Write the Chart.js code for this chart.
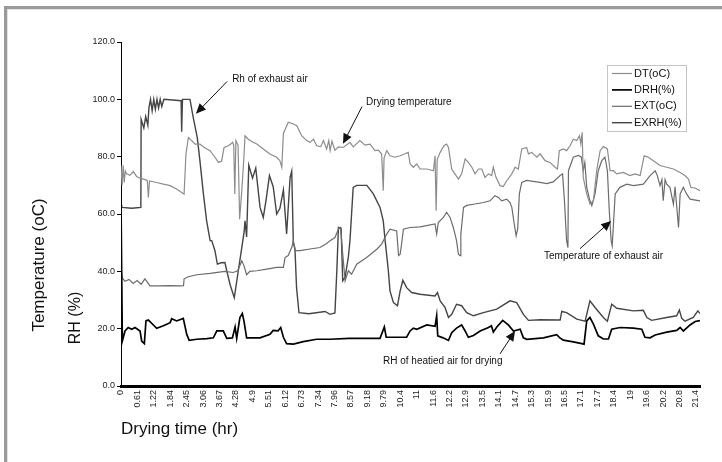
<!DOCTYPE html>
<html>
<head>
<meta charset="utf-8">
<title>Drying temperature and RH</title>
<script src="https://cdn.jsdelivr.net/npm/chart.js@4.4.1/dist/chart.umd.min.js"></script>
<style>
  html, body { margin: 0; padding: 0; background: #fff; }
  #wrap { position: relative; width: 722px; height: 462px; overflow: hidden; }
  #frame { position: absolute; left: 4px; top: 6px; width: 760px; height: 500px;
           border-top: 3px solid #9a9a9a; border-left: 3px solid #9a9a9a; }
  #frame::before { content: ''; position: absolute; left: 0; top: 0; right: 0; bottom: 0;
           border-top: 1px solid #e2e2e2; border-left: 1px solid #e2e2e2; }
  #chart { position: absolute; left: 0; top: 0; }
</style>
</head>
<body>
<div id="wrap">
  <div id="frame"></div>
  <canvas id="chart" width="722" height="462"></canvas>
</div>
<script>
// x tick labels (hours), one every 0.612 hr
const xTickLabels = ['0', '0.61', '1.22', '1.84', '2.45', '3.06', '3.67', '4.28', '4.9', '5.51',
    '6.12', '6.73', '7.34', '7.96', '8.57', '9.18', '9.79', '10.4', '11', '11.6', '12.2', '12.9',
    '13.5', '14.1', '14.7', '15.3', '15.9', '16.5', '17.1', '17.7', '18.4', '19', '19.6', '20.2',
    '20.8', '21.4'];
const TICK_STEP = 0.612;

// DT(oC) - drying temperature
const dtTime = [0, 0.04, 0.08, 0.12, 0.16, 0.21, 0.33, 0.46, 0.58, 0.71, 0.9, 0.98, 1.02, 1.06, 1.33,
    1.58, 1.83, 2.07, 2.26, 2.35, 2.42, 2.51, 2.63, 2.76, 2.94, 3.13, 3.32, 3.5, 3.63, 3.75, 3.84, 4.0,
    4.09, 4.16, 4.2, 4.24, 4.28, 4.36, 4.42, 4.5, 4.58, 4.62, 4.74, 4.92, 5.06, 5.3, 5.55, 5.8, 5.92,
    5.99, 6.05, 6.23, 6.4, 6.55, 6.73, 6.92, 7.04, 7.17, 7.29, 7.44, 7.54, 7.66, 7.74, 7.79, 7.86, 7.97,
    8.1, 8.28, 8.53, 8.65, 8.9, 9.09, 9.28, 9.46, 9.59, 9.71, 9.77, 9.8, 9.9, 10.02, 10.21, 10.4, 10.58,
    10.7, 10.77, 10.89, 11.02, 11.14, 11.39, 11.64, 11.7, 11.74, 11.78, 11.89, 12.03, 12.13, 12.2,
    12.32, 12.44, 12.57, 12.69, 12.82, 12.94, 13.07, 13.19, 13.32, 13.44, 13.56, 13.69, 13.81, 13.87,
    13.97, 14.12, 14.24, 14.37, 14.56, 14.68, 14.8, 14.93, 15.11, 15.18, 15.3, 15.49, 15.61, 15.8,
    15.98, 16.17, 16.26, 16.33, 16.48, 16.6, 16.73, 16.85, 16.98, 17.08, 17.13, 17.18, 17.22, 17.35,
    17.47, 17.6, 17.72, 17.85, 17.97, 18.12, 18.22, 18.34, 18.47, 18.71, 18.96, 19.15, 19.34, 19.49,
    19.65, 19.83, 20.08, 20.33, 20.58, 20.83, 21.01, 21.14, 21.23, 21.4, 21.57];
const dtValue = [77, 70, 77, 71, 75, 74, 73.5, 74.8, 73.1, 72.5, 72, 71.6, 65.8, 71.5, 71,
    70.4, 69.9, 68.7, 67.5, 66.9, 80.9, 86.7, 85.6, 84.4, 84.4, 83, 82.1, 79.8, 78, 78.5, 83.2, 83.8,
    84.4, 85, 84, 67, 85.6, 84, 58.2, 68.1, 80, 87.3, 86.1, 85, 84.4, 82.7, 80.9, 79.8, 78.6,
    76.3, 88.1, 92, 91.5, 90.8, 87.3, 85.6, 85, 86.1, 83.8, 83.5, 85.6, 82.7, 85.6, 82.1, 85.4, 82.3,
    83.4, 83.2, 85, 83.4, 85.6, 84, 84.4, 82.1, 82.3, 80.9, 68.1, 79.5, 82.1, 80.3, 79.8, 80.3, 81,
    81.5, 77.5, 76.3, 77.5, 75.7, 75.7, 75.1, 80.3, 61.1, 79, 81.5, 83.8, 84.4, 83.2,
    75.7, 74, 72.2, 74, 79.2, 78, 76.3, 74, 75.7, 75.7, 72.8, 74, 73.4, 76.3,
    72.8, 69.9, 69.6, 71.6, 74, 76.3, 75.7, 82.7, 83.2, 81, 81.5, 79.8, 81, 78.6,
    78, 76.3, 75.7, 82.1, 82.7, 82.1, 83.8, 86.1, 85.6, 87.3, 84.5, 88.5, 72.8, 67,
    63.5, 64.6, 75.1, 82.1, 83.5, 82.7, 75.1, 75.1, 74, 74.5, 73.4, 74, 73.4, 80.3,
    79.8, 78.6, 76.9, 76.3, 75.7, 74.5, 73.4, 72.2, 69.3, 69, 68.1];

// DRH(%) - RH of heated air for drying
const drhTime = [0, 0.05, 0.15, 0.27, 0.4, 0.52, 0.71, 0.77, 0.87, 0.93, 1.02, 1.15, 1.33, 1.58, 1.83,
    1.89, 2.07, 2.32, 2.45, 2.54, 2.82, 3.2, 3.44, 3.57, 3.81, 3.94, 4.15, 4.25, 4.31, 4.43, 4.52, 4.58,
    4.68, 5.18, 5.55, 5.67, 5.85, 5.95, 6.05, 6.17, 6.42, 6.79, 7.29, 7.79, 8.5, 9.65, 9.81, 9.88,
    10.64, 10.77, 10.89, 11.02, 11.39, 11.7, 11.76, 11.8, 12.0, 12.2, 12.32, 12.5, 12.69, 12.82,
    12.94, 13.13, 13.38, 13.69, 13.8, 13.87, 14.0, 14.22, 14.43, 14.62, 14.87, 14.99, 15.12, 15.74,
    16.23, 16.35, 16.48, 16.85, 17.17, 17.25, 17.35, 17.47, 17.6, 17.78, 17.97, 18.16, 18.28, 18.59,
    19.09, 19.4, 19.52, 19.71, 19.9, 20.33, 20.7, 20.83, 20.95, 21.2, 21.39, 21.57];
const drhValue = [64, 15.7, 19.2, 20.4, 19.8, 20.4, 19.2, 15.7, 14.8, 22.7, 23, 21.8, 20.1, 21, 22.1,
    23.5, 22.7, 23.6, 18, 15.9, 16.3, 16.5, 16.8, 19.2, 19.2, 16.6, 16.8, 20.6, 16.6, 23.9, 25.3, 22.7,
    16.8, 16.8, 18, 19.4, 19.2, 20.4, 17, 14.8, 14.6, 15.5, 16.3, 16.3, 16.6, 16.6, 20.6, 17,
    17, 19.2, 20.2, 19.8, 21.3, 20.8, 24.5, 17.5, 16.8, 15.9, 18.6, 20.2, 21.3, 19.2,
    17, 17.6, 19.2, 20.4, 21, 18.8, 20.6, 22.9, 21.3, 19.2, 19.8, 16.8, 16.3, 16.8,
    17.9, 16.8, 16, 15.4, 14.8, 14.6, 22.7, 23.9, 21.6, 17.5, 16.4, 16.4, 19.8, 20.4,
    20.2, 19.8, 17, 16.8, 17.8, 18.8, 19.4, 20.4, 19.2, 21.3, 22.5, 22.8];

// EXT(oC) - temperature of exhaust air
const extTime = [0, 0.04, 0.15, 0.3, 0.45, 0.6, 0.75, 0.89, 1.0, 1.08, 1.4, 1.8, 2.2, 2.33, 2.35, 2.51,
    2.82, 3.32, 3.87, 4.18, 4.35, 4.5, 4.58, 4.68, 4.8, 5.06, 5.43, 5.8, 6.05, 6.11, 6.23, 6.36, 6.42,
    6.48, 6.67, 7.04, 7.41, 7.66, 7.79, 7.97, 8.1, 8.18, 8.26, 8.35, 8.47, 8.59, 8.78, 9.15, 9.53, 9.71,
    9.9, 10.02, 10.27, 10.34, 10.4, 10.46, 10.52, 10.77, 11.14, 11.7, 11.76, 11.82, 12.01, 12.13, 12.26,
    12.38, 12.5, 12.57, 12.63, 12.66, 12.76, 12.88, 13.13, 13.5, 13.75, 13.93, 14.06, 14.18, 14.37,
    14.49, 14.56, 14.65, 14.72, 14.78, 14.84, 14.93, 15.11, 15.61, 15.86, 16.1, 16.36, 16.45, 16.52,
    16.6, 16.65, 16.67, 16.85, 17.04, 17.15, 17.22, 17.28, 17.35, 17.47, 17.54, 17.66, 17.78, 17.91,
    18.03, 18.12, 18.19, 18.26, 18.3, 18.41, 18.59, 18.84, 19.09, 19.46, 19.71, 19.9, 19.98, 20.08,
    20.15, 20.2, 20.27, 20.33, 20.45, 20.58, 20.64, 20.77, 20.83, 20.95, 21.07, 21.2, 21.57];
const extValue = [41, 37.8, 36.5, 37.2, 35.8, 36.8, 35.5, 37.4, 36, 34.9, 34.9, 35, 34.9, 35, 37.4, 38.1,
    38.8, 39.3, 40, 39.6, 40.2, 43.7, 42, 38.8, 40, 40.2, 40.8, 41.4, 41.4, 44.8, 45.5, 48.3, 50.7,
    47.2, 47.2, 47.8, 48.3, 49.7, 50.7, 51.8, 54.7, 55.3, 46, 36.7, 40.2, 39, 42.5, 44.8, 47.7, 49.5,
    53, 54.7, 54.1, 45.5, 46, 50, 54.7, 55.3, 55.5, 56.5, 53, 57, 58.8, 60.6, 58.8,
    55.3, 50.7, 46, 45.5, 53, 62.3, 63, 63.4, 64, 64.6, 66.4, 65.8, 64.6, 65.2,
    64, 62.3, 56.5, 52.4, 55, 67, 71, 71.7, 71, 70.6, 71.2, 73.4, 74, 64.6,
    50.7, 48.3, 75.1, 79.8, 80.4, 79.8, 75.1, 78, 69.3, 64.6, 62.9, 67, 75.1, 78.6,
    79.8, 75.1, 61.1, 50.7, 48.9, 67, 69.3, 70.4, 69.9, 70.4, 73.4, 75.1, 73.4, 69.9,
    72, 64.6, 72, 70.4, 69.3, 63.4, 69.5, 55.3, 67, 69.3, 67, 65.2, 64.6];

// EXRH(%) - RH of exhaust air
const exrhTime = [0, 0.04, 0.4, 0.74, 0.75, 0.85, 0.92, 1.0, 1.04, 1.1, 1.16, 1.22, 1.28, 1.34, 1.4,
    1.46, 1.52, 1.6, 2.24, 2.26, 2.29, 2.57, 2.69, 2.84, 2.94, 3.07, 3.19, 3.32, 3.38, 3.5, 3.59, 3.73,
    3.87, 3.94, 4.06, 4.22, 4.37, 4.5, 4.59, 4.62, 4.68, 4.76, 4.9, 5.02, 5.18, 5.3, 5.4, 5.53, 5.67,
    5.8, 5.92, 6.05, 6.17, 6.3, 6.36, 6.42, 6.48, 6.54, 6.63, 7.0, 7.6, 7.79, 7.97, 8.04, 8.1, 8.2,
    8.26, 8.35, 8.47, 8.53, 8.65, 8.78, 9.16, 9.4, 9.65, 9.77, 9.84, 9.96, 10.02, 10.15, 10.3, 10.4,
    10.5, 10.64, 10.83, 11.14, 11.7, 11.79, 11.89, 12.07, 12.2, 12.32, 12.5, 12.69, 12.88, 13.13,
    13.5, 14.0, 14.49, 14.74, 14.99, 15.18, 15.61, 16.36, 16.42, 16.6, 16.98, 17.29, 17.47, 17.66,
    17.97, 18.12, 18.28, 18.47, 19.09, 19.46, 19.59, 19.77, 20.33, 20.7, 20.8, 20.89, 21.01, 21.32,
    21.49, 21.57];
const exrhValue = [64, 62.3, 62, 62.3, 93, 90, 94, 91, 97, 100, 96, 100, 96.5, 100, 97,
    100, 97.5, 100, 99.5, 88.7, 100, 100, 93.7, 86.7, 78.6, 67, 57.6, 50.7, 50.7, 47.2, 42.5, 43,
    43.1, 40.2, 35.5, 30.8, 40.2, 48.3, 54, 57.6, 52, 77, 72.5, 76, 62.3, 58.8, 64.6, 73.4, 69.5,
    60, 62, 68.4, 53, 72.8, 75, 50, 48, 34.3, 25.6, 25.2, 26, 25, 25.5, 40, 55.3, 55,
    36.7, 38, 45, 50.7, 69.3, 70, 70, 67, 62.3, 57.6, 50.7, 40.2, 33.2, 29.1, 28, 33.2,
    36.9, 34.3, 32.6, 32, 31.4, 32.6, 29.7, 27.4, 23.9, 25, 28.5, 28, 25.6, 24.5,
    25.6, 26.8, 29.7, 29.1, 25, 22.9, 23.1, 23, 26, 25.6, 23.3, 22.6, 29.7, 27.4,
    23.9, 22.6, 28.5, 27.1, 26.2, 26.4, 23.9, 22.9, 23.9, 24.5, 26.5, 23.6, 22.6, 23.9,
    26.2, 25.3];

function pairs(times, values) {
    return times.map((t, i) => ({ x: t, y: values[i] }));
}

// text callouts, placed in data units
const notes = [
    { text: 'Rh of exhaust air', tx: 4.14, ty: 106.9, fx: 3.95, fy: 106.2, ax: 2.79, ay: 95 },
    { text: 'Drying temperature', tx: 9.13, ty: 98.9, fx: 8.98, fy: 97.5, ax: 8.27, ay: 84.5 },
    { text: 'Temperature of exhaust air', tx: 15.76, ty: 45.1, fx: 17.1, fy: 47.9, ax: 18.26, ay: 57.6 },
    { text: 'RH of heatied air for drying', tx: 9.76, ty: 8.7, fx: 14.12, fy: 11.2, ax: 14.68, ay: 19.2 }
];

const FONT = '"Liberation Sans", Arial, sans-serif';

function drawArrow(ctx, x1, y1, x2, y2) {
    const ang = Math.atan2(y2 - y1, x2 - x1);
    const len = 10, half = 4.5;
    ctx.beginPath();
    ctx.moveTo(x1, y1);
    ctx.lineTo(x2 - Math.cos(ang) * len * 0.8, y2 - Math.sin(ang) * len * 0.8);
    ctx.stroke();
    ctx.beginPath();
    ctx.moveTo(x2, y2);
    ctx.lineTo(x2 - Math.cos(ang) * len + Math.sin(ang) * half, y2 - Math.sin(ang) * len - Math.cos(ang) * half);
    ctx.lineTo(x2 - Math.cos(ang) * len - Math.sin(ang) * half, y2 - Math.sin(ang) * len + Math.cos(ang) * half);
    ctx.closePath();
    ctx.fill();
}

const decor = {
    id: 'decor',
    afterDraw(chart) {
        const { ctx, scales: { x, y } } = chart;
        ctx.save();
        ctx.fillStyle = '#111';
        ctx.strokeStyle = '#111';
        ctx.lineWidth = 1;

        // callouts
        ctx.font = '10px ' + FONT;
        ctx.textAlign = 'left';
        ctx.textBaseline = 'middle';
        notes.forEach(n => {
            ctx.fillText(n.text, x.getPixelForValue(n.tx), y.getPixelForValue(n.ty));
            drawArrow(ctx, x.getPixelForValue(n.fx), y.getPixelForValue(n.fy),
                x.getPixelForValue(n.ax), y.getPixelForValue(n.ay));
        });

        // legend box
        ctx.strokeStyle = '#c4c4c4';
        ctx.strokeRect(607.5, 65.5, 79, 66);
        ctx.font = '11px ' + FONT;
        chart.data.datasets.forEach((ds, i) => {
            const ly = 73.5 + i * 16.4;
            ctx.strokeStyle = ds.borderColor;
            ctx.lineWidth = ds.borderWidth;
            ctx.beginPath();
            ctx.moveTo(612, ly);
            ctx.lineTo(632, ly);
            ctx.stroke();
            ctx.fillStyle = '#111';
            ctx.fillText(ds.label, 634, ly);
        });

        // the two y axis titles
        ctx.textAlign = 'center';
        [['Temperature (oC)', 39, 265, 17], ['RH (%)', 76, 318, 16]].forEach(([t, px, py, fs]) => {
            ctx.save();
            ctx.font = fs + 'px ' + FONT;
            ctx.translate(px, py);
            ctx.rotate(-Math.PI / 2);
            ctx.fillText(t, 0, 0);
            ctx.restore();
        });
        ctx.restore();
    }
};

new Chart(document.getElementById('chart'), {
    type: 'line',
    data: {
        datasets: [
            { label: 'DT(oC)', data: pairs(dtTime, dtValue), borderColor: '#8c8c8c', borderWidth: 1.2 },
            { label: 'DRH(%)', data: pairs(drhTime, drhValue), borderColor: '#000000', borderWidth: 1.7 },
            { label: 'EXT(oC)', data: pairs(extTime, extValue), borderColor: '#6c6c6c', borderWidth: 1.2 },
            { label: 'EXRH(%)', data: pairs(exrhTime, exrhValue), borderColor: '#454545', borderWidth: 1.4 }
        ]
    },
    options: {
        responsive: false,
        animation: false,
        devicePixelRatio: 1,
        elements: { point: { radius: 0 }, line: { tension: 0 } },
        layout: { padding: { left: 0, top: 42, right: 22, bottom: 0 } },
        plugins: { legend: { display: false }, tooltip: { enabled: false } },
        scales: {
            x: {
                type: 'linear',
                min: 0,
                max: 21.57,
                afterFit: s => { s.height = 76; },
                afterBuildTicks: s => {
                    s.ticks = xTickLabels.map((l, i) => ({ value: i * TICK_STEP }));
                },
                ticks: {
                    autoSkip: false,
                    minRotation: 90,
                    maxRotation: 90,
                    padding: 2,
                    color: '#222',
                    font: { size: 9, family: FONT },
                    callback: (v, i) => xTickLabels[i]
                },
                grid: { drawOnChartArea: false, tickLength: 2, color: '#000' },
                border: { color: '#000', width: 3 },
                title: {
                    display: true,
                    text: 'Drying time (hr)',
                    align: 'start',
                    color: '#111',
                    font: { size: 17, family: FONT },
                    padding: { top: 0, bottom: 22 }
                }
            },
            y: {
                min: 0,
                max: 120,
                afterFit: s => { s.width = 121; },
                ticks: {
                    stepSize: 20,
                    padding: 2,
                    color: '#222',
                    font: { size: 9, family: FONT },
                    callback: v => v.toFixed(1)
                },
                grid: { drawOnChartArea: false, tickLength: 4, color: '#000' },
                border: { color: '#000', width: 1 }
            }
        }
    },
    plugins: [decor]
});
</script>
</body>
</html>
